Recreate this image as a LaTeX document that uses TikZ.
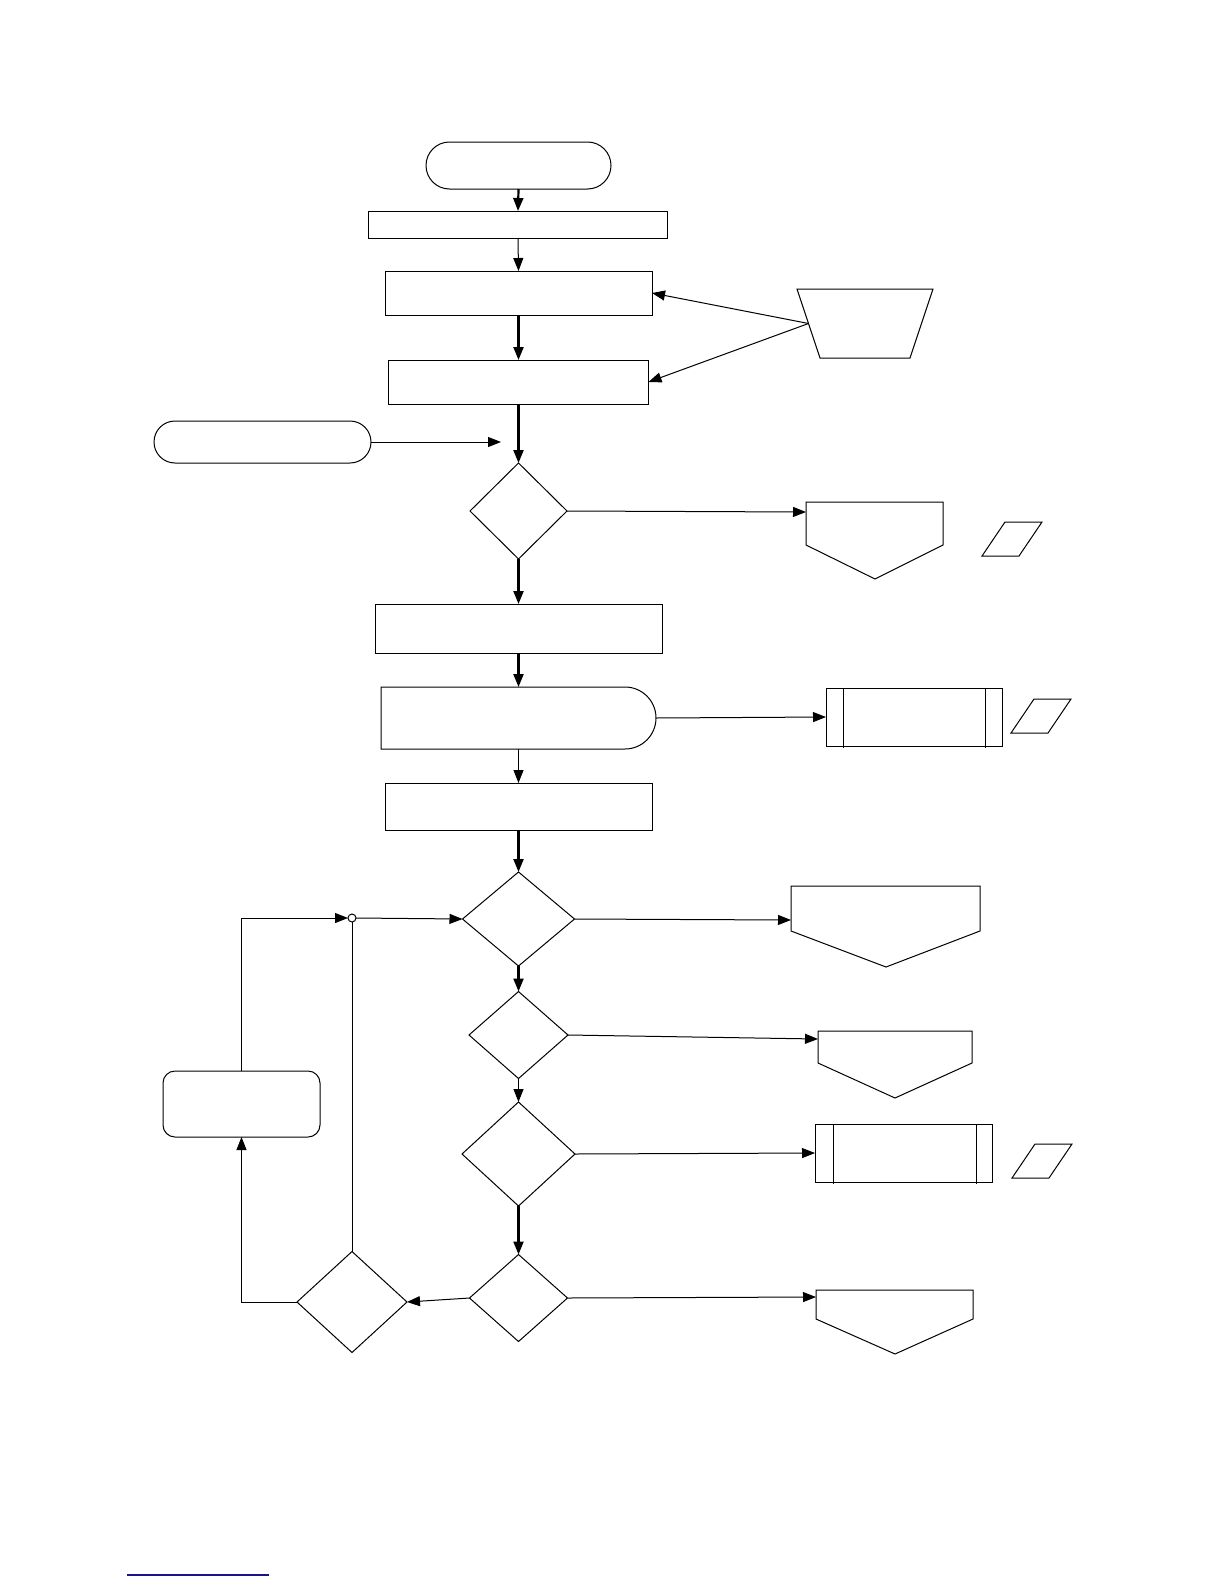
\documentclass[tikz,border=0pt]{standalone}
\usetikzlibrary{shapes.geometric,shapes.misc,arrows.meta}
\begin{document}
\begin{tikzpicture}[x=1pt,y=-1pt,
  thinln/.style={line width=1pt},
  thickln/.style={line width=2.2pt},
  arr/.style={-{Triangle[length=13pt,width=10pt]}},
  box/.style={draw,rectangle,line width=1pt,inner sep=0pt,outer sep=0pt},
  term/.style={draw,rounded rectangle,line width=1pt,inner sep=0pt,outer sep=0pt},
  dec/.style={draw,diamond,line width=1pt,inner sep=0pt,outer sep=0pt},
  outline/.style={draw,line width=1pt,line join=miter}
]
\path[use as bounding box] (0,0) rectangle (1224,1584);

% main column
\node[term,minimum width=185pt,minimum height=47pt] (start) at (518.5,165.5) {};
\node[box,minimum width=299pt,minimum height=27pt] (r1) at (518,224.5) {};
\node[box,minimum width=267pt,minimum height=44pt] (r2) at (518.5,293) {};
\node[box,minimum width=260pt,minimum height=44pt] (r3) at (518.5,382) {};
\node[term,minimum width=217pt,minimum height=42pt] (lt) at (262.5,442) {};
\coordinate (ltend) at (501,442);
\node[dec,minimum width=97pt,minimum height=96pt] (d1) at (518.5,511) {};
\node[box,minimum width=287pt,minimum height=49pt] (r4) at (518.5,628.5) {};
% delay shape
\draw[outline] (381,687) -- (625,687) arc[start angle=-90,end angle=90,radius=31] -- (381,749) -- cycle;
\node[minimum width=275pt,minimum height=62pt,inner sep=0pt,outer sep=0pt] (delay) at (518.5,718) {};
\node[box,minimum width=267pt,minimum height=47pt] (r5) at (518.5,806.5) {};
\node[dec,minimum width=112pt,minimum height=94pt] (d2) at (518.5,919) {};
\node[dec,minimum width=99pt,minimum height=87pt] (d3) at (518.5,1035) {};
\node[dec,minimum width=113pt,minimum height=104pt] (d4) at (518.5,1154) {};
\node[dec,minimum width=98pt,minimum height=87pt] (d5) at (518.5,1298) {};
\node[dec,minimum width=110pt,minimum height=101pt] (d6) at (352,1302) {};
\node[box,rounded corners=12pt,minimum width=157pt,minimum height=66pt] (rr) at (241.5,1104) {};
\node[draw,circle,line width=1pt,minimum size=8pt,inner sep=0pt,outer sep=0pt] (junc) at (352,918) {};

% trapezium (manual input)
\draw[outline] (797,289) -- (933,289) -- (910,358) -- (820,358) -- cycle;
\coordinate (trapL) at (808.5,323.5);

% off-page connectors
\draw[outline] (806,502) -- (943,502) -- (943,545) -- (875,579) -- (806,545) -- cycle;
\coordinate (p1in) at (806,512);
\draw[outline] (791,886) -- (980,886) -- (980,931) -- (886,967) -- (791,931) -- cycle;
\coordinate (p2in) at (791,920);
\draw[outline] (818,1031) -- (972,1031) -- (972,1063) -- (895,1098) -- (818,1063) -- cycle;
\coordinate (p3in) at (818,1039);
\draw[outline] (816,1290) -- (973,1290) -- (973,1319) -- (895,1354) -- (816,1319) -- cycle;
\coordinate (p4in) at (816,1297);

% predefined processes
\node[box,minimum width=176pt,minimum height=58pt] (pred1) at (914,717) {};
\draw[thinln] (843,688) -- (843,748);
\draw[thinln] (985,688) -- (985,748);
\node[box,minimum width=177pt,minimum height=58pt] (pred2) at (903.5,1153) {};
\draw[thinln] (833,1124) -- (833,1184);
\draw[thinln] (976,1124) -- (976,1184);

% data parallelograms
\draw[outline] (982,556) -- (1005,522) -- (1042,522) -- (1019,556) -- cycle;
\draw[outline] (1011,733) -- (1034,699) -- (1071,699) -- (1048,733) -- cycle;
\draw[outline] (1012,1178) -- (1035,1144) -- (1072,1144) -- (1049,1178) -- cycle;

% connectors
\draw[thickln,arr] (start.south) -- (r1.north);
\draw[thinln,arr] (r1.south) -- (r2.north);
\draw[thickln,arr] (r2.south) -- (r3.north);
\draw[thinln,arr] (trapL) -- (r2.east);
\draw[thinln,arr] (trapL) -- (r3.east);
\draw[thickln,arr] (r3.south) -- (d1.north);
\draw[thinln,arr] (lt.east) -- (ltend);
\draw[thinln,arr] (d1.east) -- (p1in);
\draw[thickln,arr] (d1.south) -- (r4.north);
\draw[thickln,arr] (r4.south) -- (delay.north);
\draw[thinln,arr] (delay.east) -- (pred1.west);
\draw[thinln,arr] (delay.south) -- (r5.north);
\draw[thickln,arr] (r5.south) -- (d2.north);
\draw[thinln,arr] (d2.east) -- (p2in);
\draw[thickln,arr] (d2.south) -- (d3.north);
\draw[thinln,arr] (d3.east) -- (p3in);
\draw[thinln,arr] (d3.south) -- (d4.north);
\draw[thinln,arr] (d4.east) -- (pred2.west);
\draw[thickln,arr] (d4.south) -- (d5.north);
\draw[thinln,arr] (d5.east) -- (p4in);
\draw[thinln,arr] (d5.west) -- (d6.east);
\draw[thinln,arr] (d6.west) -| (rr.south);
\draw[thinln,arr] (rr.north) |- (junc.west);
\draw[thinln,arr] (junc.east) -- (d2.west);
\draw[thinln] (d6.north) -- (junc.south);

% bottom underline
\draw[line width=1.6pt,color={rgb,255:red,20;green,20;blue,140}] (127,1575) -- (269,1575);
\end{tikzpicture}
\end{document}
